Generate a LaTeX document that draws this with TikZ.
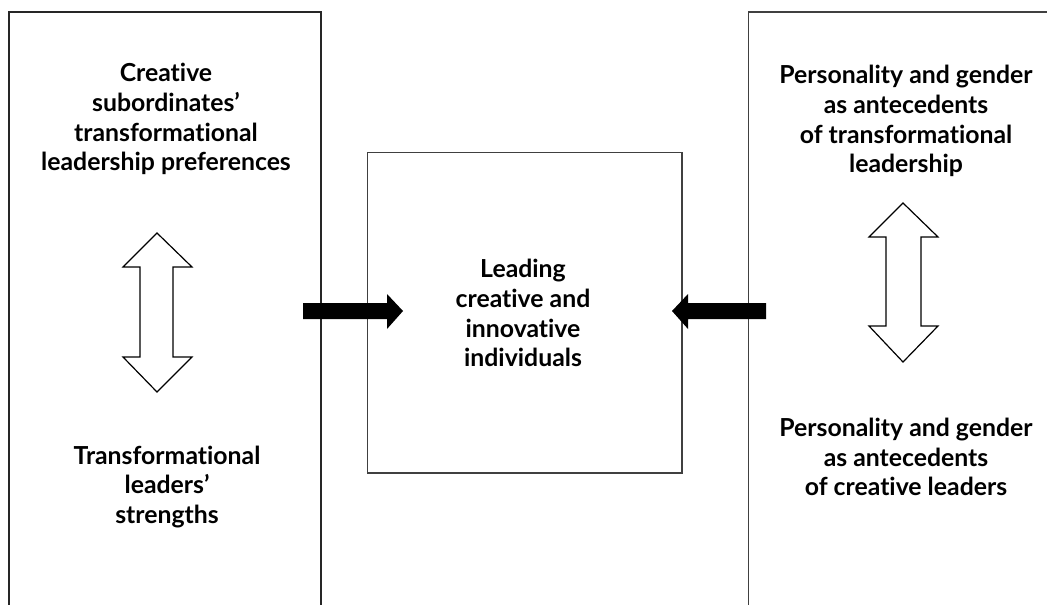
\documentclass[tikz,border=0pt]{standalone}
\usepackage{fontspec}
\setmainfont{Lato}[BoldFont={Lato Bold},Ligatures={NoCommon}]
\begin{document}
\begin{tikzpicture}[x=1pt,y=-1pt,
  boxline/.style={line width=1.8pt,draw=black!85},
  txt/.style={align=center,font=\fontsize{24.8}{29.8}\selectfont\bfseries,inner sep=0pt},
  fatarrow/.style={fill=black,draw=none},
  dblarrow/.style={draw=black,line width=1.2pt,fill=white,line join=miter}]
\useasboundingbox (0,0) rectangle (1047,605);
\begin{scope}
\clip (0,0) rectangle (1047,605);
% left box
\draw[boxline] (9,620) -- (9,12) -- (321,12) -- (321,620);
% right box
\draw[boxline,draw=black!75] (748.5,620) -- (748.5,12) -- (1060,12);
\end{scope}
% center box
\node[draw=black!75,line width=1.6pt,minimum width=314.5pt,minimum height=320.5pt,inner sep=0pt,anchor=north west] (center) at (366.5,151.5) {};
% fat arrows
\fill[fatarrow] (303,303) -- (387,303) -- (387,294) -- (403,311) -- (387,329) -- (387,319) -- (303,319) -- cycle;
\fill[fatarrow] (766,303) -- (688,303) -- (688,294) -- (672,311) -- (688,329) -- (688,319) -- (766,319) -- cycle;
% double arrows
\draw[dblarrow] (157,233) -- (192,267) -- (173,267) -- (173,357) -- (192,357) -- (157,392) -- (123,357) -- (140,357) -- (140,267) -- (123,267) -- cycle;
\draw[dblarrow] (903,203) -- (938,237) -- (921,237) -- (921,326) -- (938,326) -- (903,362) -- (869,326) -- (886,326) -- (886,237) -- (869,237) -- cycle;
% texts
\node[txt] (lt) at (166,119) {Creative\\subordinates'\\transformational\\leadership preferences};
\node[txt] (lb) at (167,487) {Transformational\\leaders'\\strengths};
\node[txt] (ct) at (523,313) {Leading\\creative and\\innovative\\individuals};
\node[txt] (rt) at (906,121) {Personality and gender\\as antecedents\\of transformational\\leadership};
\node[txt] (rb) at (906,457) {Personality and gender\\as antecedents\\of creative leaders};
\end{tikzpicture}
\end{document}
